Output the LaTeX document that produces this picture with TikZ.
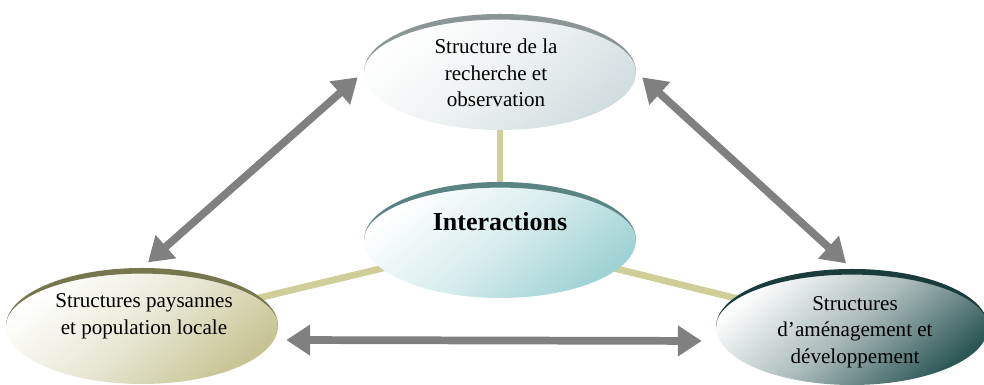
\documentclass[tikz,border=0pt]{standalone}
\usepackage{fontspec}
\setmainfont{Liberation Serif}
\usetikzlibrary{shapes.geometric,arrows.meta,backgrounds}

\definecolor{topfill}{HTML}{D2DDDF}
\definecolor{toprim}{HTML}{8C9595}
\definecolor{interfill}{HTML}{9FD2D3}
\definecolor{interrim}{HTML}{5A8482}
\definecolor{leftfill}{HTML}{C6C493}
\definecolor{leftrim}{HTML}{76764F}
\definecolor{rightfill}{HTML}{2B5654}
\definecolor{rightrim}{HTML}{1A3C3A}
\definecolor{khaki}{HTML}{CFCE98}
\definecolor{arrowgray}{HTML}{808080}

% dark crescent along the upper edge of an ellipse
\newcommand{\rimarc}[2]{\fill[#2] ([xshift=-3.4cm]#1.center) arc[start angle=180, end angle=0, x radius=3.4cm, y radius=1.45cm] arc[start angle=0, end angle=180, x radius=3.4cm, y radius=1.31cm];}

\begin{document}
\begin{tikzpicture}[>={Triangle[length=17pt,width=21pt]},
    blob/.style={ellipse, minimum width=6.8cm, minimum height=2.9cm, inner sep=0pt,
      top color=white, bottom color=#1, middle color=white!60!#1, shading angle=40},
    txt/.style={align=center, font=\fontsize{15}{19}\selectfont},
    link/.style={line width=4.8pt, khaki},
    both/.style={<->, line width=5.5pt, arrowgray, shorten <=0.2cm, shorten >=0.2cm}]
  \useasboundingbox (0,0) rectangle (24.6,9.625);
  \node[blob=topfill] (top) at (12.5,7.825) {};
  \node[blob=interfill] (inter) at (12.5,3.625) {};
  \node[blob=leftfill] (left) at (3.55,1.475) {};
  \node[blob=rightfill] (right) at (21.3,1.45) {};
  \rimarc{top}{toprim}
  \rimarc{inter}{interrim}
  \rimarc{left}{leftrim}
  \rimarc{right}{rightrim}
  \node[txt] (toptext) at (12.4,7.8) {Structure de la\\recherche et\\observation};
  \node[font=\fontsize{18.5}{22}\selectfont\bfseries] (intertext) at (12.5,4.075) {Interactions};
  \node[txt] (lefttext) at (3.6,1.725) {Structures paysannes\\et population locale};
  \node[txt] (righttext) at (21.375,1.325) {Structures\\d'aménagement et\\développement};
  \begin{scope}[on background layer]
    \draw[link] (top.center) -- (inter.center);
    \draw[link] (inter.center) -- (left.center);
    \draw[link] (inter.center) -- (right.center);
  \end{scope}
  \draw[both] (left.north) -- (top.west);
  \draw[both] (top.east) -- (right.north);
  \draw[both, shorten >=0.35cm] ([yshift=-0.35cm]left.east) -- ([yshift=-0.35cm]right.west);
\end{tikzpicture}
\end{document}
